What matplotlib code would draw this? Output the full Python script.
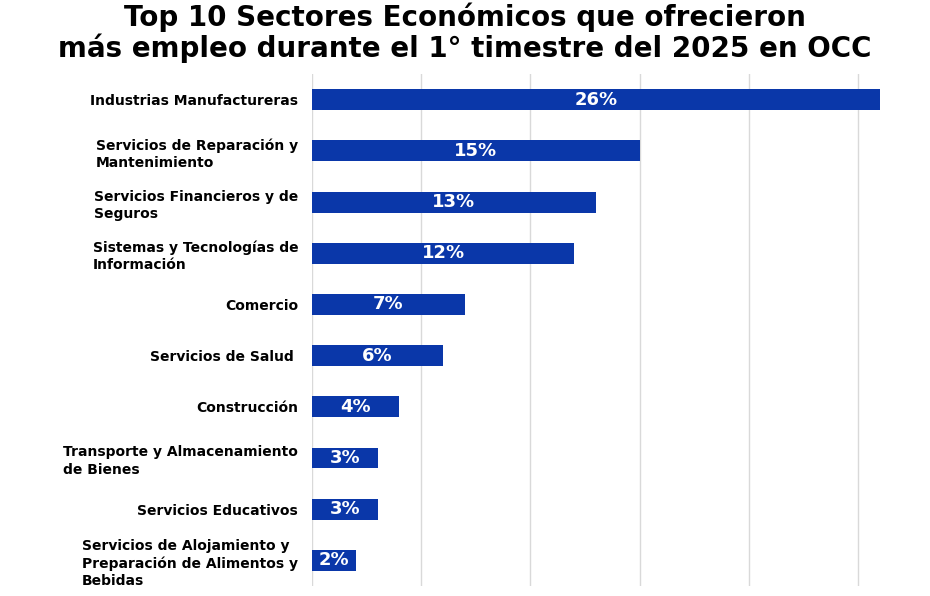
import matplotlib.pyplot as plt

sectores = [
    "Industrias Manufactureras",
    "Servicios de Reparación y\nMantenimiento",
    "Servicios Financieros y de\nSeguros",
    "Sistemas y Tecnologías de\nInformación",
    "Comercio",
    "Servicios de Salud ",
    "Construcción",
    "Transporte y Almacenamiento\nde Bienes",
    "Servicios Educativos",
    "Servicios de Alojamiento y\nPreparación de Alimentos y\nBebidas",
]
porcentajes = [26, 15, 13, 12, 7, 6, 4, 3, 3, 2]
etiquetas = ["26%", "15%", "13%", "12%", "7%", "6%", "4%", "3%", "3%", "2%"]

plt.rcParams["font.family"] = "DejaVu Sans"

fig = plt.figure(figsize=(9.3, 5.96), dpi=100)
ax = fig.add_axes([0.3355, 0.0168, 0.6645, 0.859])

y = list(range(len(sectores)))
bars = ax.barh(y, porcentajes, height=0.41, color="#0A37A9", zorder=3)

for b, txt in zip(bars, etiquetas):
    ax.text(b.get_width() / 2, b.get_y() + b.get_height() / 2, txt,
            ha="center", va="center", color="white", fontsize=13,
            fontweight="bold", zorder=4)

ax.set_ylim(len(sectores) - 0.5, -0.5)
ax.set_xlim(0, 28.3)
ax.set_yticks(y)
ax.set_yticklabels(sectores, fontsize=10, fontweight="bold",
                   multialignment="left", linespacing=1.3)
ax.tick_params(axis="y", length=0, pad=10)
ax.set_xticks([0, 5, 10, 15, 20, 25])
ax.tick_params(axis="x", length=0, labelbottom=False)
ax.grid(axis="x", color="#d9d9d9", linewidth=1, zorder=0)
for s in ax.spines.values():
    s.set_visible(False)

fig.text(0.5, 0.995, "Top 10 Sectores Económicos que ofrecieron\n"
         "más empleo durante el 1° timestre del 2025 en OCC",
         ha="center", va="top", fontsize=20, fontweight="bold",
         linespacing=1.05)

fig.savefig("out.png", dpi=100)
